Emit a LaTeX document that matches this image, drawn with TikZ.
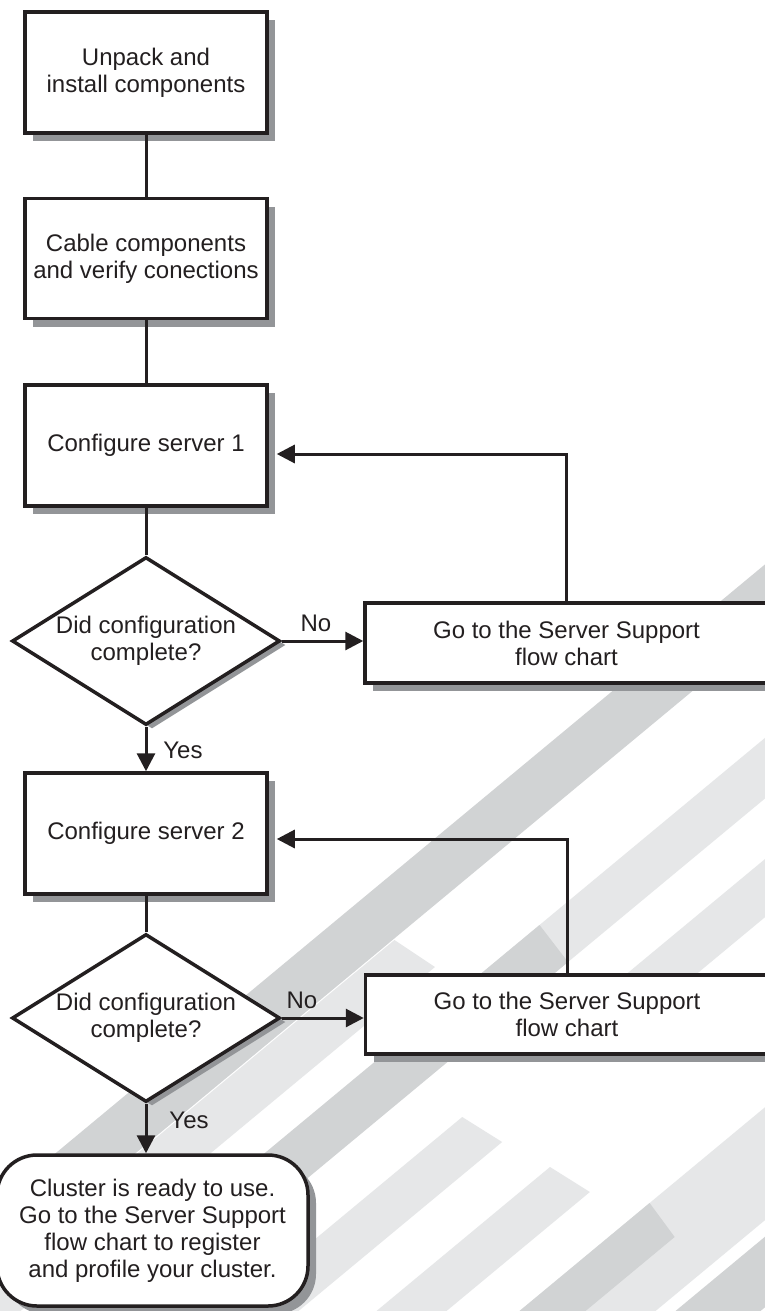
\documentclass[tikz,border=0pt]{standalone}
\usepackage{fontspec}
\setmainfont{Liberation Sans}
\usetikzlibrary{shapes.geometric,arrows.meta,calc,shadows}

\definecolor{ink}{HTML}{231F20}
\definecolor{shade}{HTML}{939598}
\definecolor{stripedark}{HTML}{D1D3D4}
\definecolor{stripelight}{HTML}{E6E7E8}

% diagonal background stripe: offsets c1,c2 (x + y/0.83), rows y1..y2
\newcommand\stripeband[5]{%
  \fill[#5] ({#1-#3*1.2048},#3) -- ({#2-#3*1.2048},#3)
    -- ({#2-#4*1.2048},#4) -- ({#1-#4*1.2048},#4) -- cycle;}
% stripe with a slanted head: left edge starts at row #3, right edge at row #4,
% both running on to the bottom of the page
\newcommand\stripehead[5]{%
  \fill[#5] ({#1-#3*1.2048},#3) -- ({#2-#4*1.2048},#4)
    -- ({#2-1320*1.2048},1320) -- ({#1-1320*1.2048},1320) -- cycle;}

\tikzset{
  txt/.style={font=\fontsize{24}{27}\selectfont, text=ink, align=center},
  box/.style={txt, draw=ink, line width=3.5pt, fill=white, inner sep=0pt,
    minimum width=242, minimum height=121,
    drop shadow={shadow xshift=8pt, shadow yshift=-8pt, fill=shade, opacity=1}},
  wide/.style={box, minimum width=403, minimum height=80},
  dec/.style={txt, draw=ink, line width=3.5pt, fill=white, diamond, inner sep=0pt,
    shape aspect=1.6, minimum width=268, minimum height=168,
    drop shadow={shadow xshift=6pt, shadow yshift=-4pt, fill=shade, opacity=1}},
  term/.style={box, rounded corners=40pt, minimum width=311, minimum height=151},
  conn/.style={draw=ink, line width=3pt},
  arr/.style={conn, -{Triangle[length=18pt,width=18pt]}},
  lbl/.style={txt, inner sep=0pt},
}

\begin{document}
\begin{tikzpicture}[x=1pt,y=-1pt]
\useasboundingbox (0,0) rectangle (765,1311);
\clip (0,0) rectangle (765,1311);
\fill[white] (0,0) rectangle (765,1311);

% background stripes
\stripeband{1445}{1525}{500}{1320}{stripedark}
\stripehead{1527}{1600}{940}{967}{stripelight}
\stripeband{1654}{1727}{700}{1000}{stripelight}
\stripehead{1654}{1727}{925}{962}{stripedark}
\stripeband{1800}{1870}{840}{1040}{stripelight}
\stripehead{1808}{1878}{1117}{1142}{stripelight}
\stripehead{1956}{2026}{1167}{1192}{stripelight}
\stripeband{2099}{2235}{1090}{1320}{stripelight}
\stripehead{2099}{2165}{1203}{1237}{stripedark}
\stripeband{2255}{2340}{1200}{1320}{stripedark}

% steps
\node[box] (b1) at (146,72.5) {Unpack and\\install components};
\node[box, minimum height=120] (b2) at (146,258.5) {Cable components\\and verify conections};
\node[box] (b3) at (146,445.5) {Configure server 1};
\node[dec] (d1) at (146,641) {Did configuration\\complete?};
\node[wide] (b4) at (566.5,643) {Go to the Server Support\\flow chart};
\node[box] (b5) at (146,833.5) {Configure server 2};
\node[dec] (d2) at (146,1018) {Did configuration\\complete?};
\node[wide, minimum height=79] (b6) at (567,1014.5) {Go to the Server Support\\flow chart};
\node[term] (fin) at (152.5,1230.5) {Cluster is ready to use.\\Go to the Server Support\\flow chart to register\\and profile your cluster.};

% return points beside the shadows of the server boxes
\coordinate (in1) at ($(b3.east)+(8,8.5)$);
\coordinate (in2) at ($(b5.east)+(8,5.5)$);

% connectors
\draw[conn] (b1.south) -- (b2.north);
\draw[conn] (b2.south) -- (b3.north);
\draw[conn] (b3.south) -- (d1.north);
\draw[arr] (d1.east) -- (d1.east -| b4.west);
\draw[arr] (b4.north) |- (in1);
\draw[arr] (d1.south) -- (b5.north);
\draw[conn] (b5.south) -- (d2.north);
\draw[arr] (d2.east) -- (d2.east -| b6.west);
\draw[arr] (b6.north) |- (in2);
\draw[arr] (d2.south) -- (d2.south |- fin.north);

% branch labels
\node[lbl] (no1) at (316,623) {No};
\node[lbl] (yes1) at (183,750) {Yes};
\node[lbl] (no2) at (302,1000) {No};
\node[lbl] (yes2) at (189,1120) {Yes};
\end{tikzpicture}
\end{document}
